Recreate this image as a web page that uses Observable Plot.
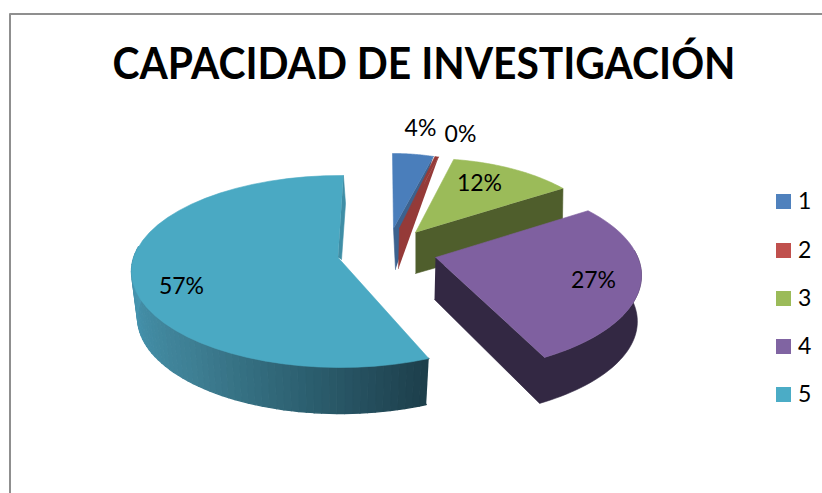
<!DOCTYPE html>
<html><head><meta charset="utf-8">
<style>html,body{margin:0;padding:0;background:#fff}svg{display:block}</style>
<script src="https://cdn.jsdelivr.net/npm/d3@7"></script>
<script src="https://cdn.jsdelivr.net/npm/@observablehq/plot@0.6"></script>
</head><body><div id="chart"></div>
<script>
const titleText = "CAPACIDAD DE INVESTIGACIÓN";
const categories = ["1", "2", "3", "4", "5"];
const values = [4, 0.4, 12, 27, 57];
const topColors = ["#4a7ebb", "#953a38", "#9bbb59", "#7f60a0", "#4aa9c3"];
const legendColors = ["#4f81bd", "#c0504d", "#9bbb59", "#8064a2", "#4bacc6"];
const sideColors = ["#3c628f", "#953a38", "#4f5e2c", "#332843", "#1d3e4a"];
const innerTeal = "#3f8ea6";
const wallStops = ["#1d3e4a", "#2c5f70", "#3e7f93", "#4490aa", "#4898b3"];

// 3-D projection of each exploded slice (layout only)
const layout = [
  {ax:393, ay:228, bx:395, by:269, cx:392, cy:248, rx:165, ry:95, d0:0, d1:0, side:"tri"},
  {ax:399, ay:228, bx:398, by:268, cx:397, cy:248, rx:151, ry:95, d0:0, d1:0, side:"tri"},
  {ax:415, ay:232, bx:415, by:273, cx:427, cy:248, rx:182, ry:90, d0:-7.5, d1:-10.7, dz:43, k:0.995, bdx:0, side:"front"},
  {ax:435, ay:257, bx:434, by:299, cx:432, cy:275, rx:209, ry:97, d0:-10.7, d1:-8, dz:46, k:1.007, bdx:-5.6, side:"front", wallFrom:75},
  {ax:337.5, ay:257, bx:337.5, by:257, cx:340, cy:271, rx:209, ry:96, d0:-0.6, d1:0.8, dz:46, k:0.971, bdx:0, side:"inner", wallTo:285}
];
const labelPos = [[420,128],[460,134],[479,183],[593,280],[181,286]];
const legendY = [201.5,250.5,298.5,346.5,394.5];

const deg = Math.PI/180;
const arcs = d3.pie().sort(null)(values);
const poly = [], wall = [];
let pid = 0;
function add(points, fill, list = poly){ const id = pid++; for (const [x,y] of points) list.push({id,x,y,fill}); }
const upper = (l,t)=>[l.cx + l.rx*Math.sin(t*deg), l.cy - l.ry*Math.cos(t*deg)];
const lower = (l,t)=>[l.cx + l.bdx + l.k*l.rx*Math.sin(t*deg), l.cy + l.dz - l.ry*Math.cos(t*deg)];
const wallColor = d3.scaleLinear().domain([155,190,225,260,285]).range(wallStops).interpolate(d3.interpolateRgb).clamp(true);

layout.forEach((l,i)=>{
  const a0 = arcs[i].startAngle/deg + l.d0, a1 = arcs[i].endAngle/deg + l.d1;
  const rim = d3.range(41).map(j=>a0+(a1-a0)*j/40);
  if (l.side==="tri") add([upper(l,a1),[l.ax,l.ay],[l.bx,l.by]], sideColors[i]);
  if (l.side==="front") {
    const from = l.wallFrom ?? a1;
    const w = d3.range(41).map(j=>a1+(from-a1)*j/40);
    add([[l.ax,l.ay],...w.map(t=>upper(l,t)),...w.slice().reverse().map(t=>lower(l,t)),[l.bx,l.by]], sideColors[i]);
  }
  if (l.side==="inner") {
    add([[l.ax,l.ay],upper(l,a1),[l.cx+5,l.cy-68],[l.ax+3.5,l.ay+2]], innerTeal);
    const n = 60;
    for (let j=0;j<n;j++){
      const t0=a0+(l.wallTo-a0)*j/n, t1=a0+(l.wallTo-a0)*(j+1)/n;
      add([upper(l,t0),upper(l,t1),lower(l,t1),lower(l,t0)], wallColor((t0+t1)/2), wall);
    }
  }
  add([[l.ax,l.ay],...rim.map(t=>upper(l,t))], topColors[i]);
});
const slice5Top = poly.filter(d=>d.fill===topColors[4]);
const under = poly.filter(d=>d.fill!==topColors[4]);

const total = d3.sum(values);
const labels = values.map((v,i)=>({text:Math.round(v/total*100)+"%",x:labelPos[i][0],y:labelPos[i][1]}));
const legend = categories.map((c,i)=>({c,y:legendY[i],fill:legendColors[i]}));
const font = "Lato, Carlito, Calibri, sans-serif";

const chart = Plot.plot({
  width:822, height:493, margin:0,
  style:{background:"#fff", fontFamily:font},
  x:{domain:[0,822], range:[0,822], axis:null},
  y:{domain:[0,493], range:[0,493], axis:null},
  color:{type:"identity"},
  marks:[
    Plot.line([{x:9.5,y:493},{x:9.5,y:13.5},{x:822,y:13.5}],{x:"x",y:"y",stroke:"#8f8f8f",strokeWidth:2}),
    Plot.line(under,{x:"x",y:"y",z:"id",fill:"fill",stroke:"fill",strokeWidth:0.6,curve:"linear"}),
    Plot.line(wall,{x:"x",y:"y",z:"id",fill:"fill",stroke:"fill",strokeWidth:1.4,curve:"linear"}),
    Plot.line(slice5Top,{x:"x",y:"y",z:"id",fill:"fill",stroke:"fill",strokeWidth:0.6,curve:"linear"}),
    Plot.text(labels,{x:"x",y:"y",text:"text",fontSize:23,fill:"#000",textAnchor:"middle",lineAnchor:"middle"}),
    Plot.text([titleText],{x:()=>423.5,y:()=>64,text:d=>d,fontSize:44,fontWeight:700,fill:"#000",textAnchor:"middle",lineAnchor:"middle",className:"chart-title"}),
    Plot.rect(legend,{x1:()=>776,x2:()=>791,y1:d=>d.y-7.5,y2:d=>d.y+7.5,fill:"fill"}),
    Plot.text(legend,{x:()=>797.5,y:"y",text:"c",fontSize:23,fill:"#000",textAnchor:"start",lineAnchor:"middle"})
  ]
});
document.getElementById("chart").append(chart);
chart.querySelectorAll(".chart-title text").forEach(t=>{t.setAttribute("textLength","623");t.setAttribute("lengthAdjust","spacingAndGlyphs");});
</script></body></html>
